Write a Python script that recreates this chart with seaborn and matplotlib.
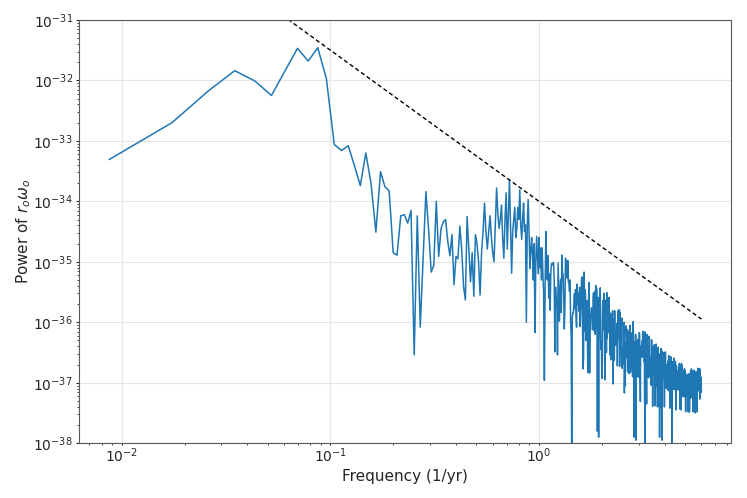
import numpy as np
import matplotlib
matplotlib.use("Agg")
import matplotlib.pyplot as plt
from matplotlib.ticker import NullFormatter, FixedLocator
import seaborn as sns

# ─── Data (log10 of power, one value per frequency bin) ─────
freq_step = 1 / 115.0  # bin width in 1/yr

# bins 1-40
log_power_low = [
    -33.31, -32.70, -32.17, -31.84, -32.01, -32.25, -31.83, -31.47, -31.68, -31.46,
    -31.97, -33.06, -33.16, -33.08, -33.41, -33.74, -33.20, -33.70, -34.51, -33.51,
    -33.76, -33.83, -34.85, -34.89, -34.24, -34.22, -34.36, -34.15, -36.54, -34.24,
    -36.08, -34.96, -33.84, -34.47, -35.17, -35.06, -34.00, -34.91, -34.45, -34.34,
]

# bins 41-130
log_power_mid = [
    -34.30, -34.66, -34.90, -34.55, -35.38, -34.91, -34.95, -34.41, -34.80, -35.41,
    -35.63, -34.25, -34.80, -35.33, -34.85, -35.57, -34.55, -34.69, -35.00, -35.55,
    -34.85, -34.50, -34.03, -34.50, -34.79, -34.50, -34.24, -34.60, -34.85, -35.00,
    -34.40, -33.78, -34.20, -34.45, -34.30, -34.06, -34.60, -34.94, -34.30, -33.86,
    -34.79, -34.20, -33.64, -34.40, -35.19, -34.50, -34.30, -34.10, -34.60, -34.45,
    -34.10, -34.30, -33.81, -34.40, -34.63, -34.30, -34.03, -34.50, -34.39, -36.00,
    -34.40, -33.97, -34.50, -35.11, -34.80, -34.60, -34.90, -35.30, -34.70, -36.17,
    -35.00, -34.58, -34.90, -35.20, -34.60, -35.10, -34.77, -35.30, -34.77, -35.20,
    -35.50, -36.96, -35.40, -34.50, -35.00, -35.30, -34.90, -35.60, -35.20, -35.80,
]

# bins 131-300
log_power_high = [
    -35.18, -35.03, -35.05, -35.03, -35.01, -35.33, -36.49, -35.42, -35.65, -35.63,
    -36.54, -35.02, -35.54, -35.98, -35.47, -35.29, -35.84, -34.89, -35.18, -35.21,
    -35.62, -36.11, -35.76, -34.94, -35.00, -35.00, -35.27, -34.98, -35.33, -35.36,
    -35.49, -35.30, -35.99, -36.21, -38.30, -35.91, -35.85, -35.85, -35.69, -35.53,
    -35.78, -35.46, -35.87, -36.08, -35.37, -35.70, -35.71, -35.52, -35.82, -35.42,
    -36.07, -35.83, -35.62, -35.27, -35.25, -36.15, -36.77, -36.60, -35.17, -36.14,
    -35.46, -35.54, -36.30, -35.73, -35.64, -36.10, -36.83, -36.03, -35.57, -35.34,
    -36.84, -36.07, -36.13, -35.86, -35.76, -35.77, -35.81, -36.12, -35.60, -35.51,
    -36.14, -36.14, -35.49, -36.20, -35.39, -36.11, -35.44, -35.61, -37.80, -36.12,
    -35.59, -37.90, -35.61, -35.67, -36.20, -35.43, -36.27, -36.45, -36.34, -36.93,
    -36.43, -35.75, -35.64, -36.12, -35.59, -35.52, -36.52, -36.95, -36.43, -36.14,
    -35.63, -36.50, -35.51, -36.27, -35.64, -36.18, -35.88, -36.08, -35.59, -36.15,
    -35.85, -36.54, -35.85, -36.62, -35.94, -36.60, -36.45, -35.99, -35.81, -37.02,
    -36.00, -36.23, -35.94, -36.63, -35.81, -36.34, -36.29, -36.38, -36.16, -36.29,
    -36.33, -36.02, -36.72, -36.22, -35.81, -35.95, -35.99, -36.26, -35.79, -36.73,
    -35.83, -36.29, -36.09, -36.54, -36.19, -35.96, -35.93, -36.76, -36.55, -36.69,
    -36.54, -36.47, -36.39, -36.00, -37.17, -36.79, -36.32, -37.05, -36.35, -36.52,
]

# bins 301-460
log_power_upper = [
    -36.06, -36.23, -36.28, -36.59, -36.12, -36.82, -36.15, -36.17, -36.75, -36.68,
    -36.85, -36.83, -36.60, -36.05, -36.83, -36.80, -36.18, -36.49, -36.18, -36.22,
    -36.49, -36.73, -36.90, -36.00, -35.99, -36.24, -36.87, -37.90, -37.26, -36.55,
    -36.32, -36.71, -36.63, -36.20, -37.95, -36.74, -36.49, -36.49, -36.90, -36.36,
    -36.31, -36.42, -36.28, -36.82, -36.91, -36.78, -36.80, -36.17, -36.27, -36.60,
    -36.80, -37.31, -36.40, -36.54, -36.40, -36.41, -36.39, -36.31, -36.53, -36.58,
    -36.18, -36.15, -36.44, -36.20, -36.43, -36.47, -36.65, -36.61, -37.34, -36.16,
    -38.40, -36.80, -36.51, -36.47, -36.28, -36.87, -37.35, -36.20, -36.37, -36.80,
    -36.86, -36.46, -36.56, -36.41, -36.92, -36.62, -36.89, -36.23, -36.29, -36.85,
    -36.63, -36.58, -36.68, -36.71, -36.93, -37.04, -36.89, -36.29, -36.31, -36.95,
    -36.84, -36.57, -37.39, -36.88, -36.45, -36.70, -36.40, -36.56, -36.81, -36.43,
    -36.37, -36.77, -36.73, -37.38, -36.48, -37.07, -36.83, -36.96, -36.36, -36.91,
    -36.78, -36.46, -36.42, -36.90, -37.40, -36.66, -36.76, -36.41, -36.82, -37.07,
    -36.61, -37.39, -36.99, -36.54, -37.90, -37.11, -36.52, -37.04, -37.05, -37.39,
    -36.44, -37.41, -36.44, -36.90, -36.67, -36.47, -37.95, -36.66, -36.94, -36.56,
    -36.91, -36.72, -36.72, -36.60, -36.88, -36.50, -36.96, -37.05, -37.40, -36.95,
]

# bins 461-690
log_power_top = [
    -36.57, -36.61, -36.84, -36.49, -37.06, -36.88, -36.78, -37.09, -36.98, -37.08,
    -36.82, -36.71, -36.70, -36.78, -36.98, -37.07, -36.73, -36.64, -37.13, -36.86,
    -36.55, -36.81, -36.67, -36.62, -37.12, -36.59, -37.42, -37.11, -36.61, -36.98,
    -37.14, -36.57, -36.64, -36.66, -37.11, -37.01, -36.85, -37.19, -37.06, -38.50,
    -36.80, -36.76, -36.68, -36.65, -36.96, -37.06, -36.72, -37.10, -36.69, -36.59,
    -36.67, -37.11, -36.69, -36.73, -36.87, -37.08, -36.77, -36.65, -36.73, -36.85,
    -37.45, -36.72, -37.14, -36.72, -36.98, -37.03, -37.04, -36.86, -37.11, -36.95,
    -36.84, -36.96, -36.80, -36.89, -37.12, -37.04, -37.11, -36.75, -36.83, -37.01,
    -36.68, -36.74, -37.12, -37.14, -36.72, -37.44, -37.16, -37.21, -36.72, -37.12,
    -36.95, -37.45, -37.05, -36.68, -37.02, -36.77, -36.72, -36.99, -37.08, -37.03,
    -36.79, -37.07, -37.22, -37.10, -37.23, -37.11, -37.09, -37.01, -36.96, -37.01,
    -37.23, -37.20, -36.77, -37.21, -37.11, -36.81, -36.82, -36.82, -37.27, -37.48,
    -36.94, -36.93, -37.09, -36.95, -37.18, -37.10, -36.86, -37.09, -36.98, -37.16,
    -37.23, -37.00, -37.11, -37.04, -37.28, -37.24, -37.48, -37.25, -36.91, -37.27,
    -37.02, -37.48, -36.85, -36.89, -37.48, -37.25, -37.25, -36.99, -37.05, -36.92,
    -37.08, -36.91, -36.81, -36.83, -37.25, -36.93, -36.90, -36.77, -36.77, -37.00,
    -37.19, -37.16, -36.91, -37.01, -36.93, -36.81, -36.99, -37.48, -37.03, -37.11,
    -37.09, -37.19, -37.18, -37.09, -36.87, -37.04, -36.86, -36.79, -37.12, -37.13,
    -37.25, -36.93, -37.22, -37.48, -37.19, -37.50, -37.00, -37.16, -36.82, -37.47,
    -37.11, -37.20, -37.14, -37.13, -37.19, -37.05, -37.06, -37.48, -36.99, -37.01,
    -36.81, -37.05, -37.14, -37.08, -36.76, -36.99, -36.88, -36.92, -36.79, -37.03,
    -37.11, -36.97, -37.08, -36.92, -36.77, -37.13, -36.77, -37.17, -37.27, -36.83,
    -36.82, -36.92, -36.94, -37.09, -37.11, -37.00, -36.92, -36.91, -36.96, -37.16,
]

# dashed reference power law, given by its two end points
ref_freq = [0.0087, 6.0]
ref_power = [1.42e-29, 1.13e-36]

# major tick positions shown on the axes
x_ticks = [1e-2, 1e-1, 1e0]
y_ticks = [1e-38, 1e-37, 1e-36, 1e-35, 1e-34, 1e-33, 1e-32, 1e-31]

log_power = np.array(log_power_low + log_power_mid + log_power_high
                     + log_power_upper + log_power_top)
power = 10.0 ** log_power
freq = np.arange(1, len(power) + 1) * freq_step

# ─── Style ───────────────────────────────────────────────────
sns.set_style("whitegrid", {
    "axes.edgecolor": "0.35",
    "grid.color": "0.9",
    "xtick.bottom": True,
    "ytick.left": True,
    "xtick.color": "0.15",
    "ytick.color": "0.15",
})
plt.rcParams["font.family"] = ["DejaVu Sans"]

# ─── Plot ────────────────────────────────────────────────────
fig, ax = plt.subplots(figsize=(7.47, 4.98), dpi=100)
fig.subplots_adjust(left=0.106, right=0.979, top=0.960, bottom=0.110)

sns.lineplot(x=freq, y=power, ax=ax, color="#1f77b4", linewidth=1.1,
             estimator=None, sort=False)
ax.plot(ref_freq, ref_power, color="black", linestyle=(0, (3, 2)),
        linewidth=1.0)

ax.set_xscale("log")
ax.set_yscale("log")
ax.set_ylim(1e-38, 1e-31)
ax.set_xlim(0.00625, 8.35)
ax.xaxis.set_major_locator(FixedLocator(x_ticks))
ax.yaxis.set_major_locator(FixedLocator(y_ticks))
ax.xaxis.set_minor_formatter(NullFormatter())
ax.yaxis.set_minor_formatter(NullFormatter())

ax.tick_params(which="major", labelsize=10)
ax.tick_params(axis="x", which="major", length=1.5, width=0.8, pad=1)
ax.tick_params(axis="y", which="major", length=2.5, width=0.8, pad=2)
ax.tick_params(which="minor", length=1.5, width=0.6)
ax.grid(True, which="major")
ax.grid(False, which="minor")

ax.set_xlabel("Frequency (1/yr)", fontsize=11, labelpad=3)
ax.set_ylabel(r"Power of $r_o\omega_o$", fontsize=11, labelpad=0)

fig.savefig("out.png", dpi=100)
plt.close(fig)
